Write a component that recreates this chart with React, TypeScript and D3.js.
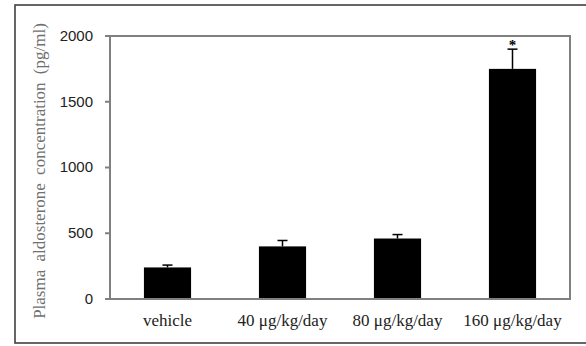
import * as d3 from 'd3';

// groups and values
const groups = ['vehicle', '40 μg/kg/day', '80 μg/kg/day', '160 μg/kg/day'];
const means = [240, 400, 460, 1750];
const errors = [18, 45, 30, 150];
const significant = [false, false, false, true];
const yTicks = [0, 500, 1000, 1500, 2000];

const W = 586;
const H = 346;
const plot = { left: 110, right: 570, top: 36, bottom: 299 };

export default function App() {
  const x = d3
    .scaleBand<string>()
    .domain(groups)
    .range([plot.left, plot.right])
    .paddingInner(0.59)
    .paddingOuter(0.295);

  const y = d3.scaleLinear().domain([0, 2000]).range([plot.bottom, plot.top]);

  const axisColor = '#808080';
  const serif = '"Liberation Serif", "Times New Roman", serif';
  const sans = '"Liberation Sans", Arial, sans-serif';

  return (
    <svg
      width={W}
      height={H}
      style={{ position: 'absolute', left: 0, top: 0, background: '#fff' }}
    >
      {/* outer figure frame */}
      <rect x={15} y={5} width={590} height={338} fill="none" stroke="#404040" strokeWidth={1.6} />

      {/* bars */}
      {groups.map((g, i) => (
        <rect
          key={g}
          x={x(g)}
          y={y(means[i])}
          width={x.bandwidth()}
          height={y(0) - y(means[i])}
          fill="#000"
        />
      ))}

      {/* upper error whiskers */}
      {groups.map((g, i) => {
        const cx = (x(g) as number) + x.bandwidth() / 2;
        const top = y(means[i] + errors[i]);
        return (
          <g key={g + '-err'} stroke="#000" strokeWidth={1.5}>
            <line x1={cx} x2={cx} y1={y(means[i])} y2={top} />
            <line x1={cx - 5} x2={cx + 5} y1={top} y2={top} />
          </g>
        );
      })}

      {/* significance marks */}
      {groups.map((g, i) =>
        significant[i] ? (
          <text
            key={g + '-sig'}
            x={(x(g) as number) + x.bandwidth() / 2}
            y={y(means[i] + errors[i]) + 1}
            textAnchor="middle"
            fontFamily={serif}
            fontWeight="bold"
            fontSize={15}
            fill="#000"
          >
            *
          </text>
        ) : null
      )}

      {/* plot box */}
      <rect
        x={plot.left}
        y={plot.top}
        width={plot.right - plot.left}
        height={plot.bottom - plot.top}
        fill="none"
        stroke={axisColor}
        strokeWidth={2}
      />

      {/* y ticks */}
      {yTicks.map((t) => (
        <g key={t}>
          <line x1={plot.left - 5} x2={plot.left} y1={y(t)} y2={y(t)} stroke={axisColor} strokeWidth={2} />
          <text
            x={93}
            y={y(t)}
            dy="0.33em"
            textAnchor="end"
            fontFamily={sans}
            fontSize={15}
            fill="#222"
          >
            {t}
          </text>
        </g>
      ))}

      {/* x labels */}
      {groups.map((g) => (
        <text
          key={g + '-lab'}
          x={(x(g) as number) + x.bandwidth() / 2}
          y={326}
          textAnchor="middle"
          fontFamily={serif}
          fontSize={17}
          fill="#222"
        >
          {g}
        </text>
      ))}

      {/* y axis title */}
      <text
        transform="translate(45, 171) rotate(-90)"
        textAnchor="middle"
        fontFamily={serif}
        fontSize={17}
        wordSpacing={4}
        fill="#707070"
      >
        Plasma aldosterone concentration (pg/ml)
      </text>
    </svg>
  );
}
